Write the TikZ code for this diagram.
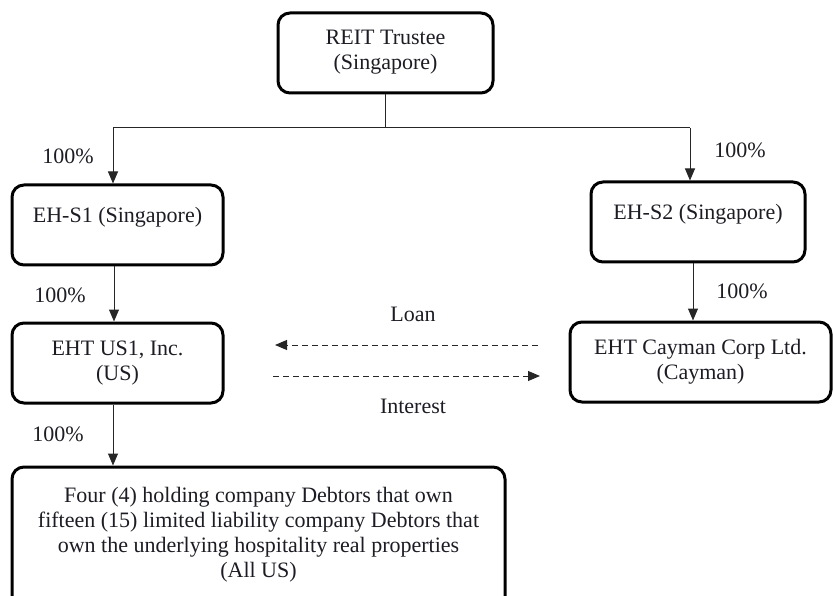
\documentclass[tikz,border=0pt]{standalone}
\usepackage{fontspec}
\setmainfont{Liberation Serif}
\usetikzlibrary{arrows.meta}
\definecolor{ink}{RGB}{28,28,36}
\begin{document}
\begin{tikzpicture}[x=1pt,y=-1pt,
  font=\fontsize{22}{25}\selectfont,
  every node/.style={text=ink},
  box/.style={draw=black, line width=3pt, rounded corners=12pt, inner sep=0pt},
  txt/.style={align=center, inner sep=0pt},
  conn/.style={draw=black!85, line width=1pt},
  arr/.style={conn, -{Triangle[length=12pt,width=10pt]}},
  darr/.style={arr, dash pattern=on 6pt off 4pt}]
\useasboundingbox (0,0) rectangle (833,596);
\clip (0,0) rectangle (833,596);
% boxes
\node[box, minimum width=215, minimum height=80] (reit) at (385.5,53) {};
\node[box, minimum width=211, minimum height=80] (s1) at (117.5,225) {};
\node[box, minimum width=211, minimum height=80] (us1) at (117.5,363) {};
\node[box, minimum width=214, minimum height=80] (s2) at (698,222) {};
\node[box, minimum width=261, minimum height=80] (cay) at (700.5,362) {};
\node[box, minimum width=493, minimum height=150] (deb) at (258.5,542) {};
% texts
\node[txt] (reitT) at (385.5,52) {REIT Trustee\\(Singapore)};
\node[txt] (s1T) at (117.5,217) {EH-S1 (Singapore)};
\node[txt] (us1T) at (117.5,363) {EHT US1, Inc.\\(US)};
\node[txt] (s2T) at (698,214) {EH-S2 (Singapore)};
\node[txt] (cayT) at (700.5,362) {EHT Cayman Corp Ltd.\\(Cayman)};
\node[txt] (debT) at (258.5,534.5) {Four (4) holding company Debtors that own\\fifteen (15) limited liability company Debtors that\\own the underlying hospitality real properties\\(All US)};
% labels
\node[txt] (p1) at (68,156) {100\%};
\node[txt] (p2) at (740,150) {100\%};
\node[txt] (p3) at (60,295) {100\%};
\node[txt] (p4) at (742,291) {100\%};
\node[txt] (p5) at (58,434) {100\%};
\node[txt] (loan) at (413,314) {Loan};
\node[txt] (int) at (413,406) {Interest};
% connectors
\coordinate (j) at (385.5,128);
\coordinate (jl) at (113,128);
\coordinate (jr) at (690,128);
\draw[conn] (reit.south) -- (j);
\draw[conn] (jl) -- (jr);
\draw[arr] (jl) -- (jl |- s1.north);
\draw[arr] (jr) -- (jr |- s2.north);
\draw[arr] ([xshift=-3.5pt]s1.south) -- ([xshift=-3.5pt]us1.north);
\draw[arr] ([xshift=-5pt]s2.south) -- ([xshift=-5pt]s2.south |- cay.north);
\draw[arr] ([xshift=-4.5pt]us1.south) -- ([xshift=-4.5pt]us1.south |- deb.north);
\coordinate (loanR) at (538,345);
\coordinate (loanL) at (275,345);
\coordinate (intL) at (273,376);
\coordinate (intR) at (540,376);
\draw[darr] (loanR) -- (loanL);
\draw[darr] (intL) -- (intR);
\end{tikzpicture}
\end{document}
